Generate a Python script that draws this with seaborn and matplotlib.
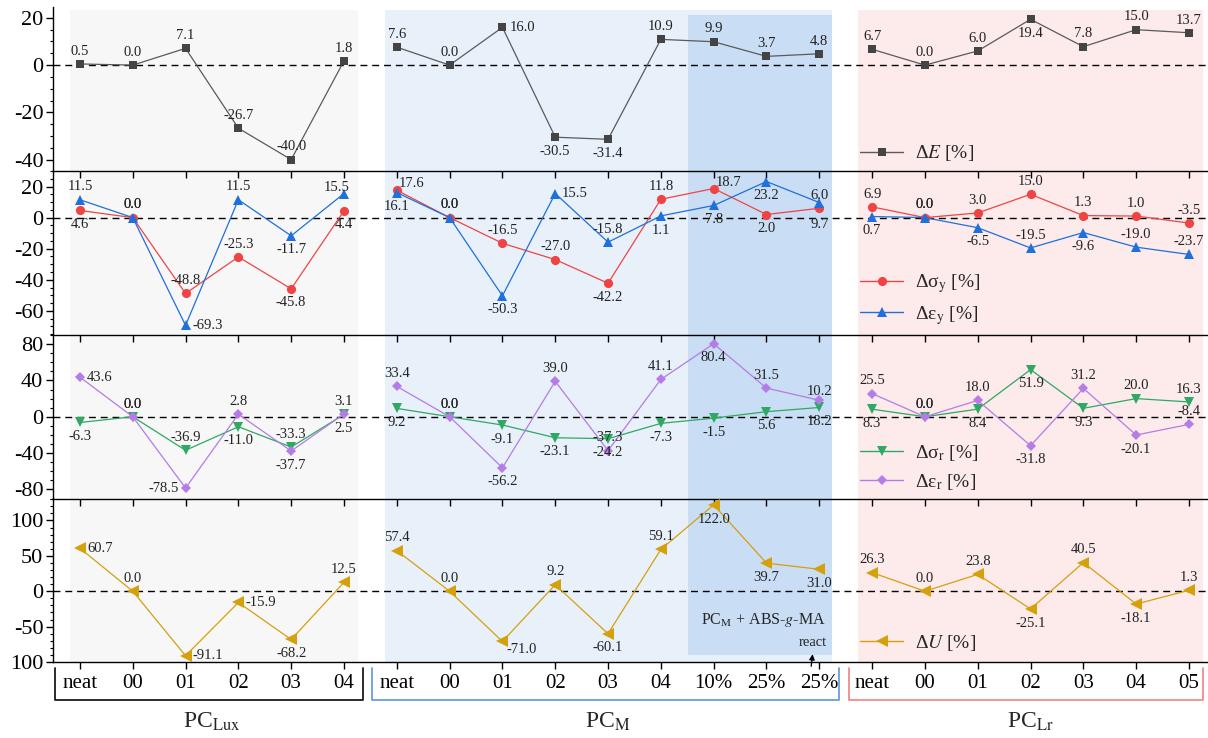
import matplotlib
matplotlib.use("Agg")
import matplotlib.pyplot as plt
import matplotlib.transforms as mtransforms
from matplotlib.lines import Line2D
from matplotlib.patches import Rectangle
from matplotlib.ticker import MultipleLocator
import numpy as np
import pandas as pd
import seaborn as sns

# ---------------- data ----------------
group_names = ["Lux", "M", "Lr"]
group_titles = [r"PC$_{\mathrm{Lux}}$", r"PC$_{\mathrm{M}}$", r"PC$_{\mathrm{Lr}}$"]
tick_lux = ["neat", "00", "01", "02", "03", "04"]
tick_m = ["neat", "00", "01", "02", "03", "04", "10%", "25%", "25%"]
tick_lr = ["neat", "00", "01", "02", "03", "04", "05"]

dE = [0.5, 0.0, 7.1, -26.7, -40.0, 1.8,
      7.6, 0.0, 16.0, -30.5, -31.4, 10.9, 9.9, 3.7, 4.8,
      6.7, 0.0, 6.0, 19.4, 7.8, 15.0, 13.7]
d_sig_y = [4.6, 0.0, -48.8, -25.3, -45.8, 4.4,
           17.6, 0.0, -16.5, -27.0, -42.2, 11.8, 18.7, 2.0, 6.0,
           6.9, 0.0, 3.0, 15.0, 1.3, 1.0, -3.5]
d_eps_y = [11.5, 0.0, -69.3, 11.5, -11.7, 15.5,
           16.1, 0.0, -50.3, 15.5, -15.8, 1.1, 7.8, 23.2, 9.7,
           0.7, 0.0, -6.5, -19.5, -9.6, -19.0, -23.7]
d_sig_r = [-6.3, 0.0, -36.9, -11.0, -33.3, 2.5,
           9.2, 0.0, -9.1, -23.1, -24.2, -7.3, -1.5, 5.6, 10.2,
           8.3, 0.0, 8.4, 51.9, 9.3, 20.0, 16.3]
d_eps_r = [43.6, 0.0, -78.5, 2.8, -37.7, 3.1,
           33.4, 0.0, -56.2, 39.0, -37.3, 41.1, 80.4, 31.5, 18.2,
           25.5, 0.0, 18.0, -31.8, 31.2, -20.1, -8.4]
dU = [60.7, 0.0, -91.1, -15.9, -68.2, 12.5,
      57.4, 0.0, -71.0, 9.2, -60.1, 59.1, 122.0, 39.7, 31.0,
      26.3, 0.0, 23.8, -25.1, 40.5, -18.1, 1.3]

# label placement codes (style only)
pos_dE = ["a", "a", "a", "a", "a", "a",
          "a", "a", "r", "b", "b", "a", "a", "a", "a",
          "a", "a", "a", "b", "a", "a", "a"]
pos_sy = ["b", "a", "a", "a", "b", "b",
          "ar", "a", "a", "a", "b", "a", "ar", "b", "a",
          "a", "a", "a", "a", "a", "a", "a"]
pos_ey = ["a", "a", "r", "a", "b", "al",
          "b", "a", "b", "r", "a", "b", "b", "b", "bb",
          "b", "a", "b", "a", "b", "a", "a"]
pos_sr = ["b", "a", "a", "b", "a", "b",
          "b", "a", "b", "b", "b", "b", "b", "b", "aa",
          "b", "a", "b", "b", "b", "a", "a"]
pos_er = ["r", "a", "l", "a", "b", "a",
          "a", "a", "b", "a", "a", "a", "b", "a", "bb",
          "a", "a", "a", "b", "a", "b", "a"]
pos_U = ["r", "a", "r", "r", "b", "a",
         "a", "a", "br", "a", "b", "a", "b", "b", "b",
         "a", "a", "a", "b", "a", "b", "a"]

OFF = {"a": ((0, 4.5), "center", "bottom"),
       "aa": ((0, 6.5), "center", "bottom"),
       "b": ((0, -5.5), "center", "top"),
       "bb": ((0, -11), "center", "top"),
       "r": ((5, 0), "left", "center"),
       "l": ((-5, 0), "right", "center"),
       "ar": ((1.5, 0), "left", "bottom"),
       "al": ((4, 0), "right", "bottom"),
       "br": ((3, -1), "left", "top")}

# ---------------- build long table ----------------
sizes = [len(tick_lux), len(tick_m), len(tick_lr)]
group_col = sum([[g] * n for g, n in zip(group_names, sizes)], [])
xlabels = tick_lux + tick_m + tick_lr
positions = np.arange(len(xlabels))

series = {
    "dE": dE, "sy": d_sig_y, "ey": d_eps_y,
    "sr": d_sig_r, "er": d_eps_r, "U": dU,
}
frames = []
for key, vals in series.items():
    frames.append(pd.DataFrame({"pos": positions, "group": group_col,
                                "series": key, "value": vals}))
df = pd.DataFrame(pd.concat(frames, ignore_index=True))

style = {
    "dE": dict(color="#5a5a5a", mfc="#444444", marker="s", ms=6.3,
               label="Δ$E$ [%]", labpos=pos_dE),
    "sy": dict(color="#f04444", mfc="#f04444", marker="o", ms=6.6,
               label="Δσ$_{\\mathrm{y}}$ [%]", labpos=pos_sy),
    "ey": dict(color="#1f6fdc", mfc="#1f6fdc", marker="^", ms=7.5,
               label="Δε$_{\\mathrm{y}}$ [%]", labpos=pos_ey),
    "sr": dict(color="#2fa864", mfc="#2fa864", marker="v", ms=7.5,
               label="Δσ$_{\\mathrm{r}}$ [%]", labpos=pos_sr),
    "er": dict(color="#b57be6", mfc="#b57be6", marker="D", ms=5.4,
               label="Δε$_{\\mathrm{r}}$ [%]", labpos=pos_er),
    "U": dict(color="#d4a00c", mfc="#d4a00c", marker="<", ms=8.0,
              label="Δ$U$ [%]", labpos=pos_U),
}

# ---------------- theme ----------------
sns.set_theme(style="ticks")
plt.rcParams["font.family"] = ["Liberation Serif", "DejaVu Serif"]
plt.rcParams["mathtext.fontset"] = "stix"
plt.rcParams["axes.unicode_minus"] = False

W, H = 1208, 738
fig = plt.figure(figsize=(W / 100, H / 100), dpi=100)
L = 53 / W
bounds = [7, 170.5, 335, 498.5, 662]
axes = []
for i in range(4):
    top, bot = bounds[i], bounds[i + 1]
    ax = fig.add_axes([L, 1 - bot / H, 1 - L, (bot - top) / H])
    axes.append(ax)

panels = [["dE"], ["sy", "ey"], ["sr", "er"], ["U"]]
ylims = [(-44.6, 24.6), (-75.5, 30.3), (-90, 90), (-100, 131)]
yticks = [[-40, -20, 0, 20], [-60, -40, -20, 0, 20], [-80, -40, 0, 40, 80],
          [-100, -50, 0, 50, 100]]
minors = [5, 5, 10, 10]
leg_y = [0.105, 0.215, 0.19, 0.115]

for ax, keys, yl, yt, mn, ly in zip(axes, panels, ylims, yticks, minors, leg_y):
    ax.set_facecolor("none")
    ax.axhline(0, color="black", ls=(0, (5, 3.5)), lw=1.0, zorder=1)
    handles = []
    for k in keys:
        st = style[k]
        sub = df[df["series"] == k]
        sns.lineplot(data=sub, x="pos", y="value", units="group", estimator=None,
                     sort=False, color=st["color"], marker=st["marker"],
                     markersize=st["ms"], markerfacecolor=st["mfc"],
                     markeredgewidth=0, linewidth=0.9, ax=ax, legend=False,
                     zorder=3)
        for x, v, p in zip(sub["pos"], sub["value"], st["labpos"]):
            off, ha, va = OFF[p]
            ax.annotate(f"{v:.1f}", (x, v), xytext=off, textcoords="offset points",
                        ha=ha, va=va, fontsize=10.5, color="#222222", zorder=4)
        handles.append(Line2D([], [], color=st["color"], marker=st["marker"],
                              ms=st["ms"], mfc=st["mfc"], mew=0, lw=1.0,
                              label=st["label"]))
    ax.legend(handles=handles, loc="center left", bbox_to_anchor=(0.699, ly),
              frameon=False, borderaxespad=0, borderpad=0, fontsize=14,
              handlelength=2.2, handletextpad=0.6, labelspacing=0.45)
    ax.set_ylim(*yl)
    ax.set_yticks(yt)
    ax.yaxis.set_minor_locator(MultipleLocator(mn))
    ax.set_xlim(-0.51, 21.36)
    ax.set_xticks(positions)
    ax.set_xlabel("")
    ax.set_ylabel("")
    for s in ["top", "right"]:
        ax.spines[s].set_visible(False)
    for s in ["left", "bottom"]:
        ax.spines[s].set_linewidth(1.0)
        ax.spines[s].set_color("black")
    ax.tick_params(axis="y", which="major", direction="out", length=5, width=1.0,
                   labelsize=16, pad=2, colors="black")
    ax.tick_params(axis="y", which="minor", direction="out", length=2.5, width=0.8,
                   colors="black")
    ax.tick_params(axis="x", which="major", direction="out", length=5, width=1.0,
                   labelsize=15, pad=4, colors="black")

for ax in axes[:3]:
    ax.set_xticklabels([])
axes[3].set_xticklabels(xlabels)
axes[3].set_yticklabels(["100", "-50", "0", "50", "100"])

# ---------------- backgrounds & group brackets ----------------
trans = mtransforms.blended_transform_factory(axes[3].transData, fig.transFigure)
starts = np.cumsum([0] + sizes[:-1])
ends = starts + np.array(sizes) - 1
bg_cols = ["#f7f7f7", "#e8f0fa", "#fdeaea"]
bg_pad = [(-0.19, 0.27), (-0.22, 0.24), (-0.27, 0.27)]
y_top, y_bot = 1 - 10 / H, 1 - 662 / H
for s, e, c, (pl, pr) in zip(starts, ends, bg_cols, bg_pad):
    fig.add_artist(Rectangle((s + pl, y_bot), (e + pr) - (s + pl), y_top - y_bot,
                             transform=trans, facecolor=c, edgecolor="none",
                             zorder=-10))
# darker blue block for PC_M + ABS-g-MA
s_dark = starts[1] + 6
fig.add_artist(Rectangle((s_dark - 0.48, 1 - 655 / H), ends[1] + 0.24 - (s_dark - 0.48),
                         (655 - 15) / H, transform=trans, facecolor="#c9ddf4",
                         edgecolor="none", zorder=-9))

br_cols = ["#1a1a1a", "#6a9ce0", "#f08a8a"]
br_pad = [(-0.48, 0.36), (-0.47, 0.37), (-0.44, 0.27)]
yb_top, yb_bot = 1 - 668 / H, 1 - 700 / H
for s, e, c, (pl, pr), t in zip(starts, ends, br_cols, br_pad, group_titles):
    fig.add_artist(Line2D([s + pl, s + pl, e + pr, e + pr],
                          [yb_top, yb_bot, yb_bot, yb_top], transform=trans,
                          color=c, lw=1.3))
    fig.text((s + e) / 2, 1 - 728 / H, t, transform=trans, ha="center",
             va="baseline", fontsize=17)

# annotations in the bottom panel
ax4 = axes[3]
ax4.text((s_dark + ends[1]) / 2 - 0.05, -41, r"PC$_{\mathrm{M}}$ + ABS-$g$-MA",
         ha="center", va="center", fontsize=11.5, zorder=5)
ax4.text(ends[1] - 0.12, -73, "react", ha="center", va="center", fontsize=10.5,
         zorder=5)
ax4.annotate("", xy=(ends[1] - 0.12, -85), xytext=(ends[1] - 0.16, -110),
             arrowprops=dict(arrowstyle="-|>", color="black", lw=0.9,
                             mutation_scale=8),
             annotation_clip=False, zorder=5)

fig.savefig("out.png", dpi=100)
